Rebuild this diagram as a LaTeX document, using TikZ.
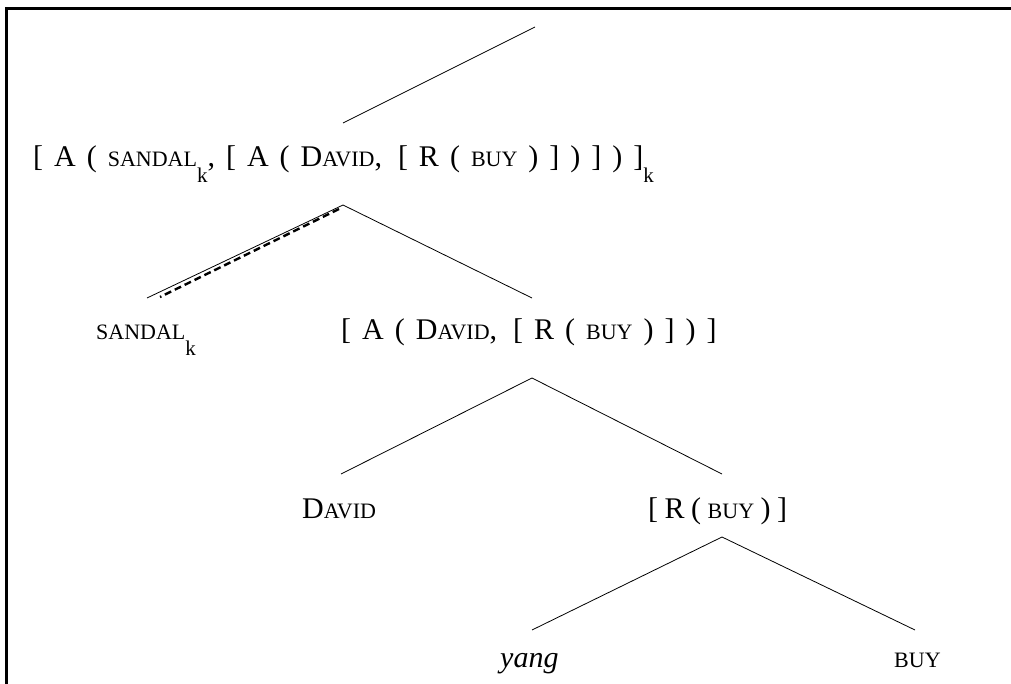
\documentclass[tikz,border=0pt]{standalone}
\usepackage{fontspec}
\setmainfont{Liberation Serif}
\newcommand{\smc}[1]{{\fontsize{22}{22}\selectfont #1}}
\newcommand{\subk}{\raisebox{-16pt}{\fontsize{21}{21}\selectfont k}}
\newcommand{\lblfont}{\fontsize{30}{30}\selectfont\spaceskip 11pt\relax}
\newcommand{\tightfont}{\fontsize{30}{30}\selectfont\spaceskip 6.5pt\relax}
\begin{document}
\begin{tikzpicture}[x=1pt,y=-1pt,
  lbl/.style={anchor=base west, inner sep=0pt, font=\lblfont},
  tlbl/.style={anchor=base west, inner sep=0pt, font=\tightfont},
  edge/.style={line width=0.8pt},
  trace/.style={line width=2.4pt, dash pattern=on 7pt off 4pt}]
\useasboundingbox (0,0) rectangle (1011,684);
\draw[line width=3pt] (6,684) -- (6,9) -- (1011,9);
% root
\coordinate (t0) at (535,27);
\coordinate (t1) at (343,123);
\draw[edge] (t1) -- (t0);
\node[lbl] (root) at (33,167) {[ A ( \smc{SANDAL}\subk, [ A ( D\smc{AVID}, \,[ R ( \smc{BUY} ) ] ) ] ) ]\subk};
\coordinate (v1) at (343,205);
\coordinate (v1d) at (339,209);
\coordinate (l1) at (147,298);
\coordinate (l1d) at (160,297);
\coordinate (r1) at (532,298);
\draw[edge] (v1) -- (l1);
\draw[trace] (v1d) -- (l1d);
\draw[edge] (v1) -- (r1);
\node[lbl] (sandal) at (96,339) {\smc{SANDAL}\subk};
\node[lbl] (ad) at (341,339) {[ A ( D\smc{AVID}, \,[ R ( \smc{BUY} ) ] ) ]};
\coordinate (v2) at (532,378);
\coordinate (l2) at (341,474);
\coordinate (r2) at (722,474);
\draw[edge] (v2) -- (l2);
\draw[edge] (v2) -- (r2);
\node[lbl] (david) at (302,518) {D\smc{AVID}};
\node[tlbl] (rb) at (648,518) {[ R ( \smc{BUY} ) ]};
\coordinate (v3) at (722,537);
\coordinate (l3) at (532,630);
\coordinate (r3) at (915,630);
\draw[edge] (v3) -- (l3);
\draw[edge] (v3) -- (r3);
\node[lbl] (yang) at (500,667) {\textit{yang}};
\node[lbl] (buy) at (894,667) {\smc{BUY}};
\end{tikzpicture}
\end{document}
